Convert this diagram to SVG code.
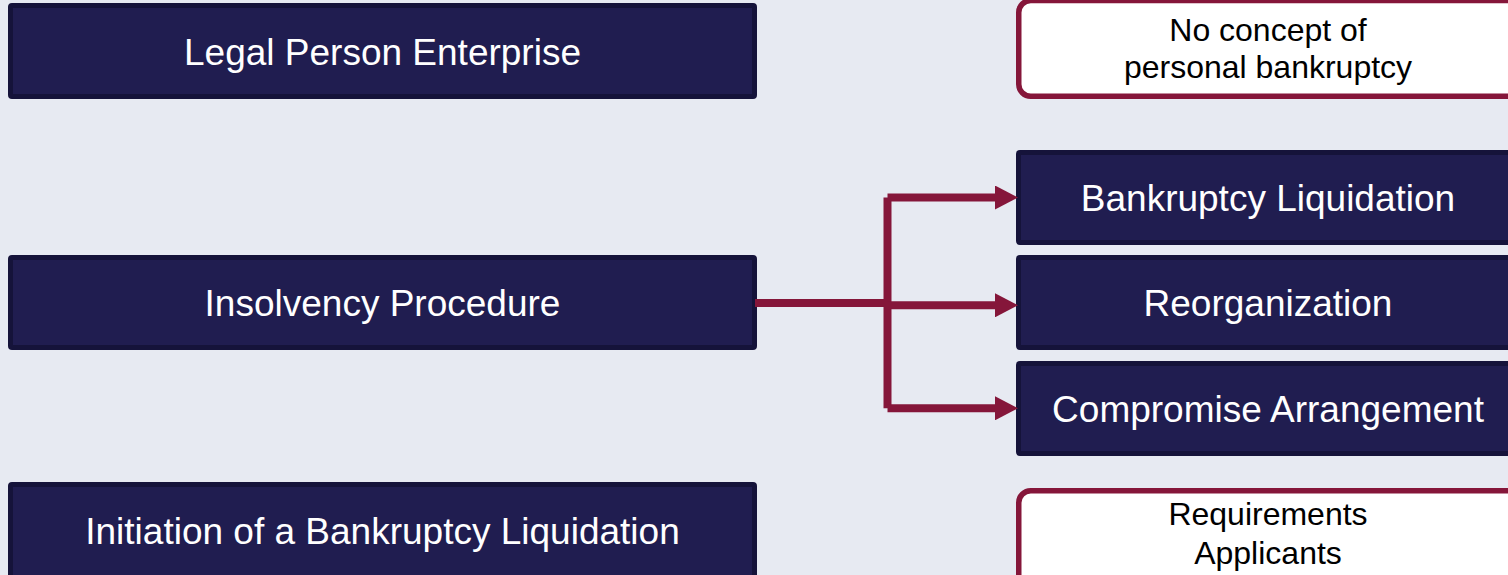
<svg xmlns="http://www.w3.org/2000/svg" width="1508" height="575" viewBox="0 0 1508 575">
  <defs>
    <marker id="arrow" viewBox="0 0 23 24" refX="1" refY="12" markerWidth="23" markerHeight="24" markerUnits="userSpaceOnUse" orient="auto">
      <path d="M0,0 L23,12 L0,24 Z" fill="#85163a"/>
    </marker>
  </defs>
  <style>
    .dark rect { fill: #201d50; stroke: #15133a; stroke-width: 5; }
    .dark text { fill: #ffffff; font-family: "Liberation Sans", Arial, sans-serif; font-size: 37px; text-anchor: middle; }
    .note rect { fill: #ffffff; stroke: #85163a; stroke-width: 5.5; }
    .note text { fill: #000000; font-family: "Liberation Sans", Arial, sans-serif; font-size: 32px; text-anchor: middle; }
    .conn { fill: none; stroke: #85163a; stroke-width: 8; stroke-linejoin: round; }
  </style>
  <rect x="0" y="0" width="1508" height="575" fill="#e7eaf2"/>

  <!-- left column -->
  <g id="legal-person" class="dark">
    <rect x="10.5" y="5.5" width="744" height="91" rx="1.5"/>
    <text x="382.5" y="65">Legal Person Enterprise</text>
  </g>
  <g id="insolvency" class="dark">
    <rect x="10.5" y="257.5" width="744" height="90" rx="1.5"/>
    <text x="382.5" y="316">Insolvency Procedure</text>
  </g>
  <g id="initiation" class="dark">
    <rect x="10.5" y="484.5" width="744" height="96" rx="1.5"/>
    <text x="382.5" y="544">Initiation of a Bankruptcy Liquidation</text>
  </g>

  <!-- right column -->
  <g id="no-personal" class="note">
    <rect x="1018.75" y="0.5" width="510" height="95.75" rx="12"/>
    <text x="1268" y="41">No concept of</text>
    <text x="1268" y="78">personal bankruptcy</text>
  </g>
  <g id="liquidation" class="dark">
    <rect x="1018.5" y="152.5" width="499" height="90" rx="1.5"/>
    <text x="1268" y="211">Bankruptcy Liquidation</text>
  </g>
  <g id="reorganization" class="dark">
    <rect x="1018.5" y="257.5" width="499" height="90" rx="1.5"/>
    <text x="1268" y="316">Reorganization</text>
  </g>
  <g id="compromise" class="dark">
    <rect x="1018.5" y="363.5" width="499" height="90" rx="1.5"/>
    <text x="1268" y="422">Compromise Arrangement</text>
  </g>
  <g id="requirements" class="note">
    <rect x="1018.75" y="490.75" width="510" height="100" rx="12"/>
    <text x="1268" y="525">Requirements</text>
    <text x="1268" y="564">Applicants</text>
  </g>

  <!-- connectors: trunk from the procedure box fanning out to the three outcomes -->
  <g id="connectors">
    <path class="conn" d="M755,303 L887.5,303"/>
    <path class="conn" d="M887.5,197.5 L887.5,408.3"/>
    <path class="conn" d="M887.5,197.5 L996,197.5" marker-end="url(#arrow)"/>
    <path class="conn" d="M887.5,305.3 L996,305.3" marker-end="url(#arrow)"/>
    <path class="conn" d="M887.5,408.3 L996,408.3" marker-end="url(#arrow)"/>
  </g>
</svg>
